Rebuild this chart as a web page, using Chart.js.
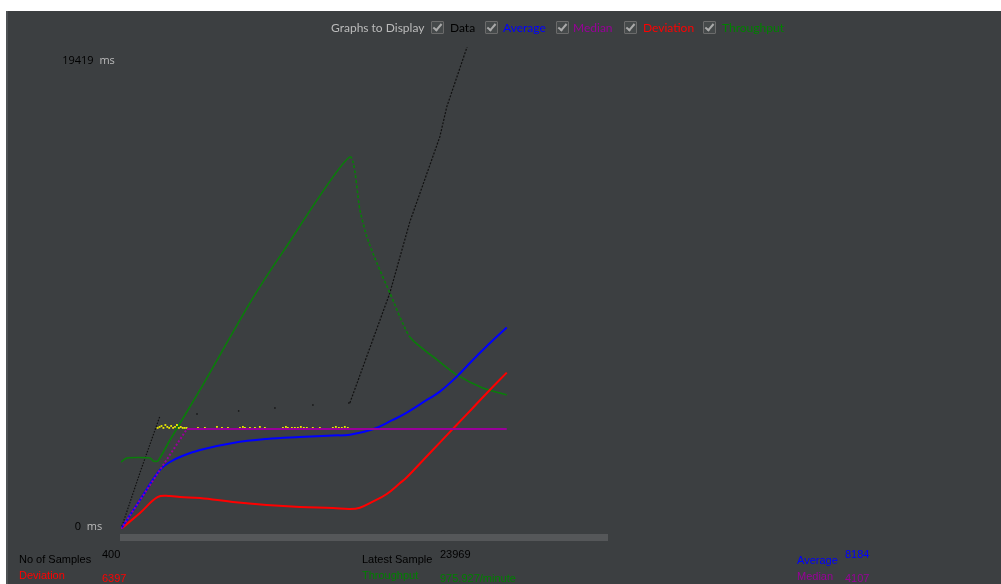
<!DOCTYPE html>
<html>
<head>
<meta charset="utf-8">
<script src="https://cdn.jsdelivr.net/npm/chart.js@4.4.0/dist/chart.umd.min.js"></script>
<style>
html,body{margin:0;padding:0;background:#fff;width:1001px;height:584px;overflow:hidden}
#panel{position:absolute;left:6px;top:11px;width:995px;height:573px;background:#3c3f41;border-left:2px solid #4e5254;box-sizing:border-box}
#graph{position:absolute;left:0;top:0}
#bar{position:absolute;left:120px;top:534px;width:488px;height:7px;background:#555759}
.t{position:absolute;font:12px Lato,sans-serif;line-height:14px;white-space:nowrap}
.s{position:absolute;font:11px 'Liberation Sans',sans-serif;line-height:14px;white-space:nowrap}
.cb{position:absolute;top:21px;width:11px;height:11px;border:1px solid #6b6b6b;background:#45494a;border-radius:1px}
.cb:after{content:'';position:absolute;left:3px;top:0px;width:3px;height:7px;border:solid #a9a9a9;border-width:0 2px 2px 0;transform:rotate(40deg)}
</style>
</head>
<body>
<div id="panel"></div>
<div id="bar"></div>
<canvas id="graph" width="1001" height="584"></canvas>

<div class="t" style="left:331px;top:21px;color:#bbbbbb">Graphs to Display</div>
<div class="cb" style="left:431px"></div><div class="t" style="left:450px;top:21px;color:#000">Data</div>
<div class="cb" style="left:485px"></div><div class="t" style="left:503px;top:21px;color:#0000ff">Average</div>
<div class="cb" style="left:556px"></div><div class="t" style="left:573px;top:21px;color:#990099">Median</div>
<div class="cb" style="left:624px"></div><div class="t" style="left:643px;top:21px;color:#ff0000">Deviation</div>
<div class="cb" style="left:703px"></div><div class="t" style="left:722px;top:21px;color:#008000">Throughput</div>

<div class="s" style="left:19px;top:552px;color:#000">No of Samples</div>
<div class="s" style="left:102px;top:547px;color:#000">400</div>
<div class="s" style="left:19px;top:568px;color:#ff0000">Deviation</div>
<div class="s" style="left:102px;top:571px;color:#ff0000">6397</div>
<div class="s" style="left:362px;top:552px;color:#000">Latest Sample</div>
<div class="s" style="left:440px;top:547px;color:#000">23969</div>
<div class="s" style="left:362px;top:568px;color:#008000">Throughput</div>
<div class="s" style="left:440px;top:571px;color:#008000">975.927/minute</div>
<div class="s" style="left:797px;top:553px;color:#0000ff">Average</div>
<div class="s" style="left:845px;top:547px;color:#0000ff">8184</div>
<div class="s" style="left:797px;top:569px;color:#990099">Median</div>
<div class="s" style="left:845px;top:571px;color:#990099">4107</div>

<script>
// graph range: sample number on x, milliseconds on y
const sampleMax = 505;
const yTicks = [0, 19419];

// black "Data" samples
const dataRampX = [0, 20, 40.4];
const dataRampY = [0, 2350, 4641];
const dataDotX = [78.8, 122, 159.6, 199, 236.3];
const dataDotY = [4723, 4846, 4969, 5093, 5175];
const dataTailX = [237.3, 278.8, 299.5, 330.6, 337.8, 359.6, 400];
const dataTailY = [5175, 9693, 12609, 16099, 17330, 19878, 23969];

// yellow samples sitting on the median
const nearMedX = [38, 40, 42, 44, 46, 48, 50, 52, 54, 56, 58, 60, 62, 64, 66, 68,
  79.8, 87, 99.5, 104.7, 110.9, 123.3, 126.4, 128.5, 133.7, 138.9, 144, 149.2,
  167.9, 171, 173, 177.2, 180.3, 183.4, 186.5, 189.6, 192.7, 198.9, 206.2,
  219.7, 222.8, 225.9, 229, 232.1, 235.2];
const nearMedY = [4150, 4190, 4230, 4150, 4270, 4190, 4150, 4230, 4150, 4190, 4270, 4150, 4190, 4150, 4150, 4150,
  4150, 4150, 4190, 4150, 4150, 4150, 4190, 4150, 4150, 4150, 4190, 4150,
  4150, 4190, 4150, 4150, 4150, 4150, 4190, 4150, 4150, 4150, 4150,
  4150, 4190, 4150, 4150, 4190, 4150];

const avgX = [0, 19.7, 40.4, 50.8, 61.1, 81.9, 116, 151, 185.5, 219.7, 237.3, 261.1, 281.9, 296.4, 317.1, 330.6, 348.2, 364.8, 382.4, 400];
const avgY = [0, 1191, 2423, 2752, 2957, 3245, 3532, 3696, 3778, 3840, 3870, 4095, 4477, 4776, 5298, 5639, 6255, 6941, 7627, 8270];

const medX = [0, 68.4, 400];
const medY = [0, 4107, 4107];

const devX = [0, 19.7, 38.3, 50.8, 61.1, 81.9, 116, 151, 185.5, 219.7, 237.3, 247.7, 261.1, 275.6, 289.1, 296.4, 313, 330.6, 348.2, 364.8, 382.4, 400];
const devY = [0, 657, 1314, 1355, 1314, 1273, 1109, 986, 904, 862, 821, 875, 1121, 1437, 1877, 2123, 2813, 3548, 4279, 4969, 5709, 6420];

const tputX = [0, 6.2, 30.1, 33.2, 38.3, 50.8, 81.9, 133.7, 167.9, 237.3, 247.7, 254.9, 265.3, 278.8, 299.5, 330.6, 348.2, 375.1, 400];
const tputY = [2752, 2916, 2916, 2793, 2793, 3655, 5709, 9282, 11376, 15278, 13101, 11992, 10925, 9693, 7885, 6859, 6325, 5791, 5503];

const pts = (xs, ys) => xs.map((x, i) => ({x, y: ys[i]}));

const yLabels = {
  id: 'yLabels',
  afterDraw(chart) {
    const c = chart.ctx, y = chart.scales.y;
    c.save();
    c.font = "11px 'Open Sans', sans-serif";
    yTicks.forEach((v, i) => {
      const num = String(v), unit = ' ms';
      const w1 = c.measureText(num).width, w2 = c.measureText(unit).width;
      const x0 = 87 - (w1 + w2) / 2;
      const py = i === 0 ? y.getPixelForValue(v) - 2 : y.getPixelForValue(v) + 5;
      c.textBaseline = 'middle';
      c.fillStyle = '#000';
      c.fillText(num, x0, py);
      c.fillStyle = '#bbbbbb';
      c.fillText(unit, x0 + w1 + 3, py);
    });
    c.restore();
  }
};

new Chart(document.getElementById('graph'), {
  type: 'line',
  data: {
    datasets: [
      {label: 'Median', data: pts(medX, medY), borderColor: '#990099', borderWidth: 2, pointRadius: 0,
       segment: {borderDash: ctx => ctx.p0.parsed.x < 60 ? [2, 2] : undefined}},
      {label: 'Data', data: pts(nearMedX, nearMedY), showLine: false, pointStyle: 'rect', pointRadius: 1.3,
       pointBorderWidth: 0, pointBackgroundColor: '#e6e600'},
      {label: 'Average', data: pts(avgX, avgY), borderColor: '#0000ff', borderWidth: 2, pointRadius: 0,
       tension: 0.4},
      {label: 'Deviation', data: pts(devX, devY), borderColor: '#ff0000', borderWidth: 2, pointRadius: 0,
       tension: 0.4},
      {label: 'Throughput', data: pts(tputX, tputY), borderColor: '#0a7d0a', borderWidth: 1.6, pointRadius: 0,
       tension: 0.2, segment: {borderDash: ctx => (ctx.p0.parsed.x >= 237 && ctx.p0.parsed.x < 299) ? [3, 2] : undefined}},
      {label: 'Data', data: pts(dataRampX, dataRampY), borderColor: '#111', borderWidth: 1.2, borderDash: [1.5, 1.5], pointRadius: 0},
      {label: 'Data', data: pts(dataDotX, dataDotY), showLine: false, pointStyle: 'rect', pointRadius: 1,
       pointBorderWidth: 0, pointBackgroundColor: '#111'},
      {label: 'Data', data: pts(dataTailX, dataTailY), borderColor: '#111', borderWidth: 1.2, borderDash: [2, 1.5], pointRadius: 0,
       clip: {left: 2, top: 9, right: 2, bottom: 2}},
    ]
  },
  options: {
    responsive: false, animation: false, devicePixelRatio: 1,
    layout: {padding: {left: 121, top: 56, right: 393, bottom: 55}},
    plugins: {legend: {display: false}, tooltip: {enabled: false}},
    scales: {
      x: {type: 'linear', min: 0, max: sampleMax, display: false},
      y: {min: 0, max: yTicks[1], display: false},
    },
  },
  plugins: [yLabels],
});
</script>
</body>
</html>
